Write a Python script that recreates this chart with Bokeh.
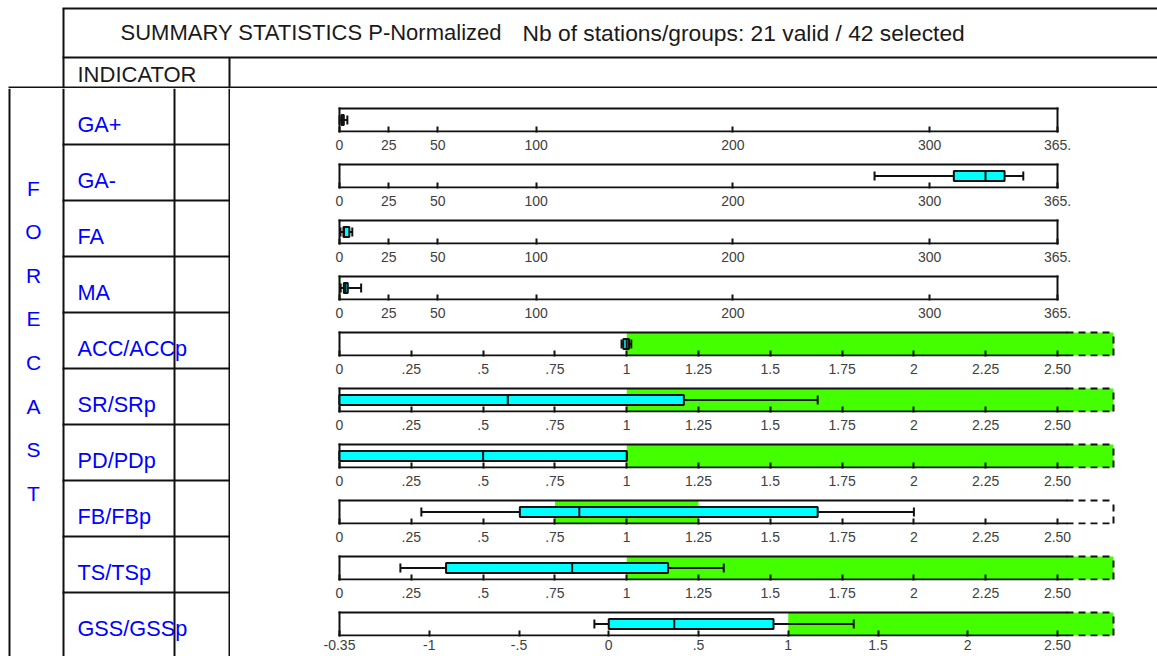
from bokeh.plotting import figure
from bokeh.layouts import column, row
from bokeh.models import Range1d, FixedTicker
from bokeh.core.properties import value
from bokeh.embed import file_html
from bokeh.resources import INLINE

# ---------------- data ----------------
title_main = "SUMMARY STATISTICS P-Normalized"
title_count = "Nb of stations/groups: 21 valid / 42 selected"
indicator_header = "INDICATOR"
group_name = "FORECAST"

indicators = ["GA+", "GA-", "FA", "MA", "ACC/ACCp", "SR/SRp", "PD/PDp", "FB/FBp", "TS/TSp", "GSS/GSSp"]
scale_of = ["count", "count", "count", "count", "ratio", "ratio", "ratio", "ratio", "ratio", "gss"]

whisker_low = [0.0, 272.0, 0.5, 0.6, 0.982, 0.0, 0.0, 0.285, 0.212, -0.08]
quartile_1 = [1.0, 312.3, 2.0, 2.2, 0.988, 0.0, 0.0, 0.628, 0.371, 0.0]
median = [1.5, 328.4, 2.3, 3.0, 1.0, 0.586, 0.5, 0.835, 0.810, 0.365]
quartile_3 = [2.2, 338.1, 5.0, 4.2, 1.008, 1.199, 1.0, 1.665, 1.144, 0.918]
whisker_high = [4.0, 347.6, 6.5, 11.0, 1.016, 1.665, 1.0, 2.0, 1.338, 1.365]

good_low = [None, None, None, 0.0, 1.0, 1.0, 1.0, 0.75, 1.0, 1.0]
good_high = [None, None, None, 0.5, None, None, None, 1.25, None, None]  # None = open ended

count_ticks = [0, 25, 50, 100, 200, 300, 365]
count_labels = ["0", "25", "50", "100", "200", "300", "365."]
ratio_ticks = [0, 0.25, 0.5, 0.75, 1, 1.25, 1.5, 1.75, 2, 2.25, 2.5]
ratio_labels = ["0", ".25", ".5", ".75", "1", "1.25", "1.5", "1.75", "2", "2.25", "2.50"]
gss_ticks = [-1.5, -1, -0.5, 0, 0.5, 1, 1.5, 2, 2.5]
gss_labels = ["-0.35", "-1", "-.5", "0", ".5", "1", "1.5", "2", "2.50"]

scales = {
    "count": (count_ticks, count_labels, False),
    "ratio": (ratio_ticks, ratio_labels, True),
    "gss": (gss_ticks, gss_labels, True),
}

# ---------------- style / layout ----------------
FONT_NAME = "Liberation Sans"
FONT = value(FONT_NAME)
TICK_FONT = "Liberation Sans Narrow, Liberation Sans"
BLUE = "#0000ff"
GREEN = "#44ff00"
CYAN = "#00ffff"
INK = "#111111"
TICK_INK = "#404040"

PAGE_X0, PAGE_Y0, PAGE_X1 = 0, 0, 1157
HEADER_Y1 = 88
BODY_Y1 = 656
ROW_H = 56
N = len(indicators)

X_OUTER, X_GROUP, X_NAME_END, X_COL_END = 9, 63, 174, 229
LEFT_FIG_X1 = 230

AX_PX0, AX_PX1, DASH_PX1 = 339, 1057, 1113
SOLID_OVER_PX = 9
FRAME_PX0, FRAME_PX1 = 336, 1116
FRAME_H = 26
BOX_Y0, BOX_Y1 = 1, 24
BOX_MID = (BOX_Y0 + BOX_Y1) / 2
BOX_HALF = 5
CAP_HALF = 4.5
SHIFT = 12


def clean(fig):
    fig.xgrid.visible = False
    fig.ygrid.visible = False
    fig.outline_line_color = None
    fig.background_fill_color = "white"
    fig.border_fill_color = "white"


# ---------------- header ----------------
ph = figure(width=PAGE_X1 - PAGE_X0, height=HEADER_Y1 - PAGE_Y0,
            x_range=Range1d(PAGE_X0, PAGE_X1), y_range=Range1d(HEADER_Y1, PAGE_Y0),
            min_border=0, toolbar_location=None, output_backend="svg",
            x_axis_location=None, y_axis_location=None)
clean(ph)
ph.segment(x0=[62, X_GROUP, 62, X_COL_END, 8],
           y0=[8, 8, 57, 57, 87],
           x1=[PAGE_X1, X_GROUP, PAGE_X1, X_COL_END, PAGE_X1],
           y1=[8, HEADER_Y1, 57, HEADER_Y1, 87],
           line_color=INK, line_width=2)
ph.text(x=[120], y=[32], text=[title_main], text_font=FONT,
        text_font_size="22px", text_color="#1a1a1a", text_align="left", text_baseline="middle")
ph.text(x=[522], y=[32], text=[title_count], text_font=FONT,
        text_font_size="22.8px", text_color="#1a1a1a", text_align="left", text_baseline="middle")
ph.text(x=[77], y=[74], text=[indicator_header], text_font=FONT, text_font_size="22px",
        text_color="#1a1a1a", text_align="left", text_baseline="middle")

# ---------------- left table ----------------
pl = figure(width=LEFT_FIG_X1 - PAGE_X0, height=BODY_Y1 - HEADER_Y1,
            x_range=Range1d(PAGE_X0, LEFT_FIG_X1), y_range=Range1d(BODY_Y1, HEADER_Y1),
            min_border=0, toolbar_location=None, output_backend="svg",
            x_axis_location=None, y_axis_location=None)
clean(pl)
vx = [X_OUTER, X_GROUP, X_NAME_END, X_COL_END]
pl.segment(x0=vx, y0=[HEADER_Y1] * 4, x1=vx, y1=[BODY_Y1] * 4, line_color=INK, line_width=2)
hy = [HEADER_Y1 + ROW_H * k for k in range(1, N)]
pl.segment(x0=[62] * len(hy), y0=hy, x1=[X_COL_END] * len(hy), y1=hy, line_color=INK, line_width=2)
pl.text(x=[77] * N, y=[HEADER_Y1 + ROW_H * i + 36 for i in range(N)], text=indicators,
        text_font=FONT, text_font_size="21.7px", text_color=BLUE,
        text_align="left", text_baseline="middle")
letters = list(group_name)
pl.text(x=[33] * len(letters), y=[187.5 + 43.6 * k for k in range(len(letters))], text=letters,
        text_font=FONT, text_font_size="21px", text_color=BLUE,
        text_align="center", text_baseline="middle")

# ---------------- indicator rows ----------------
row_figs = []
for i in range(N):
    ticks, labels, dashed = scales[scale_of[i]]
    lo, ref = ticks[0], ticks[-1]
    ppu = (AX_PX1 - AX_PX0) / (ref - lo)
    xs = lo - (AX_PX0 - FRAME_PX0) / ppu
    xe = lo + (FRAME_PX1 - AX_PX0) / ppu
    dash_end = lo + (DASH_PX1 - AX_PX0) / ppu
    solid_end = ref + SOLID_OVER_PX / ppu if dashed else ref

    row_top = HEADER_Y1 + ROW_H * i
    fig_top = HEADER_Y1 if i == 0 else row_top + SHIFT
    fig_bot = BODY_Y1 if i == N - 1 else row_top + ROW_H + SHIFT
    axis_y = min(row_top + 44, fig_bot - 14)
    frame_top = axis_y - FRAME_H
    last = (i == N - 1)

    p = figure(width=PAGE_X1 - LEFT_FIG_X1, height=fig_bot - fig_top,
               x_range=Range1d(xs, xe), y_range=Range1d(0, FRAME_H),
               min_border_left=FRAME_PX0 - LEFT_FIG_X1, min_border_right=PAGE_X1 - FRAME_PX1,
               min_border_top=frame_top - fig_top, min_border_bottom=fig_bot - axis_y,
               toolbar_location=None, output_backend="svg", y_axis_location=None)
    clean(p)

    ax = p.xaxis[0]
    ax.ticker = FixedTicker(ticks=ticks)
    ax.major_label_overrides = {(int(t) if float(t).is_integer() else t): lab for t, lab in zip(ticks, labels)}
    ax.axis_line_color = None
    ax.major_tick_in = 6
    ax.major_tick_out = 0
    ax.major_tick_line_width = 2
    ax.major_tick_line_color = INK
    ax.minor_tick_line_color = None
    ax.major_label_text_font = TICK_FONT
    ax.major_label_text_font_size = "14px"
    ax.major_label_text_color = TICK_INK
    ax.major_label_standoff = 3 if last else 7

    # good zone
    if good_low[i] is not None:
        ghi = good_high[i] if good_high[i] is not None else (dash_end if dashed else ref)
        p.quad(left=[good_low[i]], right=[ghi], bottom=[BOX_Y0], top=[BOX_Y1],
               fill_color=GREEN, line_color=None)

    # frame
    p.segment(x0=[lo, lo, lo], y0=[BOX_Y0, BOX_Y1, BOX_Y0],
              x1=[solid_end, solid_end, lo], y1=[BOX_Y0, BOX_Y1, BOX_Y1],
              line_color=INK, line_width=2, line_cap="square")
    if dashed:
        p.segment(x0=[solid_end, solid_end, dash_end], y0=[BOX_Y0, BOX_Y1, BOX_Y0],
                  x1=[dash_end, dash_end, dash_end], y1=[BOX_Y0, BOX_Y1, BOX_Y1],
                  line_color=INK, line_width=2, line_dash="7 5")
    else:
        p.segment(x0=[ref], y0=[BOX_Y0], x1=[ref], y1=[BOX_Y1],
                  line_color=INK, line_width=2, line_cap="square")

    # box plot
    p.segment(x0=[whisker_low[i]], y0=[BOX_MID], x1=[whisker_high[i]], y1=[BOX_MID],
              line_color=INK, line_width=2)
    p.segment(x0=[whisker_low[i], whisker_high[i]], y0=[BOX_MID - CAP_HALF] * 2,
              x1=[whisker_low[i], whisker_high[i]], y1=[BOX_MID + CAP_HALF] * 2,
              line_color=INK, line_width=2)
    p.quad(left=[quartile_1[i]], right=[quartile_3[i]],
           bottom=[BOX_MID - BOX_HALF], top=[BOX_MID + BOX_HALF],
           fill_color=CYAN, line_color=INK, line_width=2)
    p.segment(x0=[median[i]], y0=[BOX_MID - BOX_HALF], x1=[median[i]], y1=[BOX_MID + BOX_HALF],
              line_color=INK, line_width=2)
    row_figs.append(p)

layout = column(ph, row(pl, column(*row_figs)))
open("out.html", "w").write(file_html(layout, INLINE))
